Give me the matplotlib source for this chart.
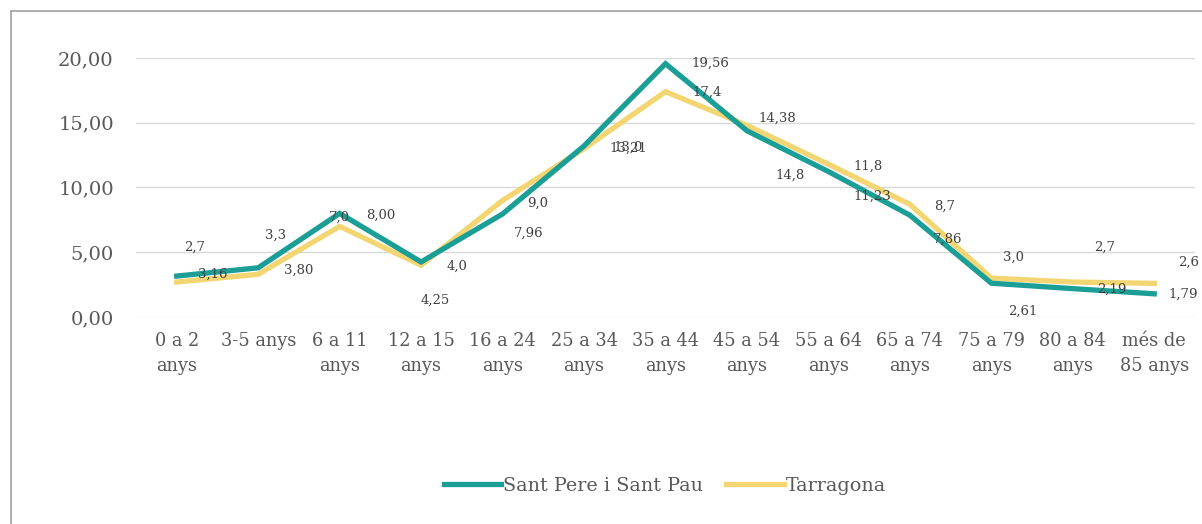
import matplotlib.pyplot as plt
from matplotlib.lines import Line2D

categories = ["0 a 2\nanys", "3-5 anys", "6 a 11\nanys", "12 a 15\nanys", "16 a 24\nanys",
              "25 a 34\nanys", "35 a 44\nanys", "45 a 54\nanys", "55 a 64\nanys",
              "65 a 74\nanys", "75 a 79\nanys", "80 a 84\nanys", "més de\n85 anys"]
sant_pere = [3.16, 3.80, 8.00, 4.25, 7.96, 13.21, 19.56, 14.38, 11.23, 7.86, 2.61, 2.19, 1.79]
tarragona = [2.7, 3.3, 7.0, 4.0, 9.0, 13.0, 17.4, 14.8, 11.8, 8.7, 3.0, 2.7, 2.6]
sant_pere_labels = ["3,16", "3,80", "8,00", "4,25", "7,96", "13,21", "19,56", "14,38",
                    "11,23", "7,86", "2,61", "2,19", "1,79"]
tarragona_labels = ["2,7", "3,3", "7,0", "4,0", "9,0", "13,0", "17,4", "14,8",
                    "11,8", "8,7", "3,0", "2,7", "2,6"]
yticks = [0, 5, 10, 15, 20]

# label offsets in pixels (dx right, dy down)
sp_off = [(36, -2), (40, 2), (41, 2), (14, 38), (26, 19), (44, 2), (45, 0), (30, -13),
          (44, 25), (38, 24), (31, 28), (39, 1), (29, 0)]
ta_off = [(18, -35), (17, -39), (0, -9), (36, 1), (35, 3), (44, -1), (42, 1), (43, 50),
          (40, 2), (35, 2), (22, -21), (32, -35), (34, -21)]

teal = "#1a9e96"
yellow = "#f3d572"
text_col = "#595959"

plt.rcParams["font.family"] = ["DejaVu Serif"]

fig = plt.figure(figsize=(12.02, 5.24), dpi=100)
ax = fig.add_axes([136 / 1202, 1 - 317 / 524, (1195 - 136) / 1202, (317 - 58) / 524])

x = list(range(len(categories)))
ax.plot(x, sant_pere, color=teal, lw=3.8, label="Sant Pere i Sant Pau", zorder=3,
        solid_joinstyle="miter")
ax.plot(x, tarragona, color=yellow, lw=3.8, label="Tarragona", zorder=2,
        solid_joinstyle="miter")

for i in x:
    dx, dy = sp_off[i]
    ax.annotate(sant_pere_labels[i], (i, sant_pere[i]), xytext=(dx * 0.72, -dy * 0.72),
                textcoords="offset points", ha="center", va="center", fontsize=9.5,
                color="#404040", zorder=4)
    dx, dy = ta_off[i]
    ax.annotate(tarragona_labels[i], (i, tarragona[i]), xytext=(dx * 0.72, -dy * 0.72),
                textcoords="offset points", ha="center", va="center", fontsize=9.5,
                color="#404040", zorder=4)

ax.set_xlim(-0.5, len(categories) - 0.5)
ax.set_ylim(0, 20)
ax.set_yticks(yticks)
ax.set_yticklabels([f"{v:.2f}".replace(".", ",") for v in yticks], fontsize=14, color=text_col)
ax.set_xticks(x)
ax.set_xticklabels(categories, fontsize=12.8, color=text_col, linespacing=1.45)
ax.tick_params(length=0)
ax.tick_params(axis="x", pad=11)
ax.tick_params(axis="y", pad=16)
ax.grid(axis="y", color="#d9d9d9", lw=1)
ax.set_axisbelow(True)
for s in ax.spines.values():
    s.set_visible(False)

fig.legend(loc="center", bbox_to_anchor=(0.553, 1 - 486 / 524), ncol=2, frameon=False,
           fontsize=13.8, handlelength=3.0, handletextpad=0.1, columnspacing=1.2,
           labelcolor=text_col)

# outer frame (left and top edge visible in the reference)
fig.add_artist(Line2D([11 / 1202, 11 / 1202], [0, 1 - 11 / 524], color="#a0a0a0", lw=1.2,
                      transform=fig.transFigure))
fig.add_artist(Line2D([11 / 1202, 1], [1 - 11 / 524, 1 - 11 / 524], color="#a0a0a0", lw=1.2,
                      transform=fig.transFigure))

fig.savefig("out.png", dpi=100)
